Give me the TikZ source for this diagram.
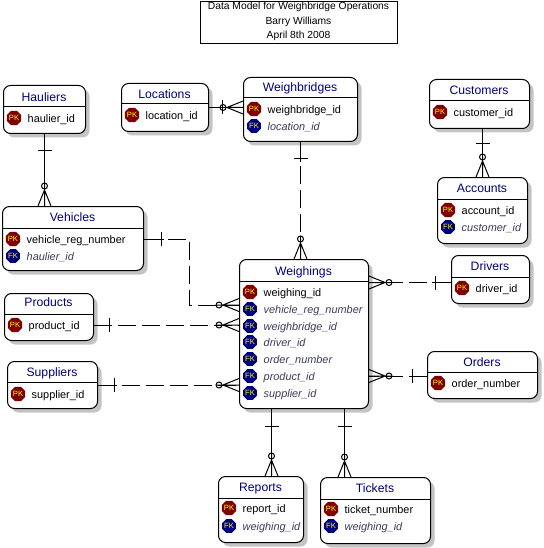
\documentclass[tikz,border=0pt]{standalone}
\usepackage{fontspec}
\setmainfont{Liberation Sans}
\usetikzlibrary{shapes.geometric,shadows}

\definecolor{headblue}{RGB}{0,0,128}
\definecolor{pkred}{RGB}{128,0,0}
\definecolor{fknavy}{RGB}{0,0,128}
\definecolor{shadegray}{RGB}{196,196,196}
\definecolor{fkgray}{RGB}{60,60,90}
\definecolor{keyyellow}{RGB}{255,255,0}

% "many" end: optional circle plus crow's foot, drawn outward from the box edge
\newcommand{\manyend}[2]{%
  \begin{scope}[shift={#1},rotate=#2]
    \draw[conn] (0,0) -- (23,0) (16,0) -- (0,6.5) (16,0) -- (0,-6.5);
    \draw[conn] (20,0) circle[radius=3pt];
  \end{scope}}
% "one" end: a single bar at the given distance from the box edge
\newcommand{\oneend}[3]{%
  \begin{scope}[shift={#1},rotate=#2]
    \draw[conn] (0,0) -- (#3+3,0) (#3,-7) -- (#3,7);
  \end{scope}}
% attribute rows: key icon and column name
\newcommand{\pkrow}[4]{%
  \node[pkicon] (#1-key) at (#2,#3) {PK};
  \node[pkattr] (#1) at ([xshift=13.5pt,yshift=-4.5pt]#1-key.center) {#4};}
\newcommand{\fkrow}[4]{%
  \node[fkicon] (#1-key) at (#2,#3) {FK};
  \node[fkattr] (#1) at ([xshift=13.5pt,yshift=-4.5pt]#1-key.center) {#4};}

\tikzset{
  conn/.style={draw=black, line width=1pt},
  nonident/.style={dash pattern=on 18pt off 6pt},
  entity/.style={draw=black, line width=1pt, fill=white, rounded corners=7pt,
    inner sep=0pt, anchor=north west,
    drop shadow={shadow xshift=4pt, shadow yshift=-4pt, fill=shadegray, opacity=1, draw=none}},
  etitle/.style={anchor=base, inner sep=0pt, text=headblue, font=\fontsize{12.2}{14}\selectfont},
  rule/.style={draw=black, line width=1pt},
  pkicon/.style={regular polygon, regular polygon sides=8, minimum size=14.5pt, inner sep=0pt,
    fill=pkred, text=keyyellow, font=\fontsize{7.6}{7.6}\selectfont},
  fkicon/.style={pkicon, fill=fknavy},
  pkattr/.style={anchor=base west, inner sep=0pt, text=black, font=\fontsize{10.9}{13}\selectfont},
  fkattr/.style={anchor=base west, inner sep=0pt, text=fkgray, font=\fontsize{10.9}{13}\selectfont\itshape},
  caption/.style={anchor=base, inner sep=0pt, font=\fontsize{10.3}{12}\selectfont},
}

\begin{document}
\begin{tikzpicture}[x=1pt,y=-1pt]
\useasboundingbox (0,0) rectangle (543,548);

% title block
\node[draw=black, line width=1pt, minimum width=197pt, minimum height=42pt,
      inner sep=0pt, anchor=north west] (titleblock) at (200,1) {};
\node[caption] (cap1) at (298.5,10) {Data Model for Weighbridge Operations};
\node[caption] (cap2) at (298.5,24.5) {Barry Williams};
\node[caption] (cap3) at (298.5,38.5) {April 8th 2008};

% Hauliers
\node[entity, minimum width=82pt, minimum height=48pt] (hauliers) at (3,85) {};
\draw[rule] ([yshift=-22pt]hauliers.north west) -- ([yshift=-22pt]hauliers.north east);
\node[etitle] (hauliers-t) at (44,101.5) {Hauliers};
\pkrow{haulierid}{14}{118}{haulier\_id}

% Locations
\node[entity, minimum width=87pt, minimum height=48pt] (locations) at (121,83) {};
\draw[rule] ([yshift=-21pt]locations.north west) -- ([yshift=-21pt]locations.north east);
\node[etitle] (locations-t) at (164.5,98.5) {Locations};
\pkrow{locationid}{132}{115}{location\_id}

% Weighbridges
\node[entity, minimum width=114pt, minimum height=64pt] (weighbridges) at (243,77) {};
\draw[rule] ([yshift=-21pt]weighbridges.north west) -- ([yshift=-21pt]weighbridges.north east);
\node[etitle] (weighbridges-t) at (300,91.5) {Weighbridges};
\pkrow{wbid}{254}{109}{weighbridge\_id}
\fkrow{wblocid}{254}{126}{location\_id}

% Customers
\node[entity, minimum width=100pt, minimum height=49pt] (customers) at (429,79) {};
\draw[rule] ([yshift=-22pt]customers.north west) -- ([yshift=-22pt]customers.north east);
\node[etitle] (customers-t) at (479,94.5) {Customers};
\pkrow{customerid}{440}{112}{customer\_id}

% Accounts
\node[entity, minimum width=90pt, minimum height=66pt] (accounts) at (437,177) {};
\draw[rule] ([yshift=-22pt]accounts.north west) -- ([yshift=-22pt]accounts.north east);
\node[etitle] (accounts-t) at (482,192.5) {Accounts};
\pkrow{accountid}{448}{210}{account\_id}
\fkrow{acccustid}{448}{227}{customer\_id}

% Vehicles
\node[entity, minimum width=141pt, minimum height=64pt] (vehicles) at (2,206) {};
\draw[rule] ([yshift=-22pt]vehicles.north west) -- ([yshift=-22pt]vehicles.north east);
\node[etitle] (vehicles-t) at (72.5,221.5) {Vehicles};
\pkrow{vreg}{13}{239}{vehicle\_reg\_number}
\fkrow{vhaulid}{13}{256}{haulier\_id}

% Drivers
\node[entity, minimum width=78pt, minimum height=48pt] (drivers) at (451,255) {};
\draw[rule] ([yshift=-22pt]drivers.north west) -- ([yshift=-22pt]drivers.north east);
\node[etitle] (drivers-t) at (490,270.5) {Drivers};
\pkrow{driverid}{462}{288}{driver\_id}

% Weighings
\node[entity, minimum width=129pt, minimum height=149pt] (weighings) at (239,259) {};
\draw[rule] ([yshift=-22pt]weighings.north west) -- ([yshift=-22pt]weighings.north east);
\node[etitle] (weighings-t) at (303.5,275.5) {Weighings};
\pkrow{w-id}{250}{292}{weighing\_id}
\fkrow{w-vreg}{250}{309}{vehicle\_reg\_number}
\fkrow{w-wb}{250}{326}{weighbridge\_id}
\fkrow{w-drv}{250}{342}{driver\_id}
\fkrow{w-ord}{250}{359}{order\_number}
\fkrow{w-prod}{250}{376}{product\_id}
\fkrow{w-sup}{250}{393}{supplier\_id}

% Products
\node[entity, minimum width=89pt, minimum height=47pt] (products) at (4,293) {};
\draw[rule] ([yshift=-21pt]products.north west) -- ([yshift=-21pt]products.north east);
\node[etitle] (products-t) at (48.5,306.5) {Products};
\pkrow{prodid}{15}{325}{product\_id}

% Suppliers
\node[entity, minimum width=90pt, minimum height=47pt] (suppliers) at (7,361) {};
\draw[rule] ([yshift=-21pt]suppliers.north west) -- ([yshift=-21pt]suppliers.north east);
\node[etitle] (suppliers-t) at (52,376.5) {Suppliers};
\pkrow{supid}{18}{394}{supplier\_id}

% Orders
\node[entity, minimum width=110pt, minimum height=47pt] (orders) at (427,351) {};
\draw[rule] ([yshift=-21pt]orders.north west) -- ([yshift=-21pt]orders.north east);
\node[etitle] (orders-t) at (482,366.5) {Orders};
\pkrow{ordnum}{438}{383}{order\_number}

% Reports
\node[entity, minimum width=85pt, minimum height=66pt] (reports) at (218,476) {};
\draw[rule] ([yshift=-22pt]reports.north west) -- ([yshift=-22pt]reports.north east);
\node[etitle] (reports-t) at (260.5,491.5) {Reports};
\pkrow{repid}{229}{508}{report\_id}
\fkrow{repwid}{229}{526}{weighing\_id}

% Tickets
\node[entity, minimum width=110pt, minimum height=66pt] (tickets) at (320,477) {};
\draw[rule] ([yshift=-22pt]tickets.north west) -- ([yshift=-22pt]tickets.north east);
\node[etitle] (tickets-t) at (375,492.5) {Tickets};
\pkrow{ticknum}{331}{509}{ticket\_number}
\fkrow{tickwid}{331}{526}{weighing\_id}

% ---- relationships ----
% Hauliers -< Vehicles
\draw[conn] (hauliers.south) -- (hauliers.south |- vehicles.north);
\oneend{(hauliers.south)}{270}{17}
\manyend{(hauliers.south |- vehicles.north)}{90}

% Locations -< Weighbridges
\draw[conn] (locations.east) -- (locations.east -| weighbridges.west);
\oneend{(locations.east)}{0}{13}
\manyend{(locations.east -| weighbridges.west)}{180}

% Customers -< Accounts
\draw[conn] (accounts.north |- customers.south) -- (accounts.north);
\oneend{(accounts.north |- customers.south)}{270}{15}
\manyend{(accounts.north)}{90}

% Weighbridges -< Weighings
\draw[conn,nonident] (weighbridges.south) -- (weighbridges.south |- weighings.north);
\oneend{(weighbridges.south)}{270}{17}
\manyend{(weighbridges.south |- weighings.north)}{90}

% Vehicles -< Weighings
\coordinate (vbend) at (189,305);
\draw[conn,nonident] (vehicles.east |- vreg-key) -| (vbend) -- (weighings.west |- vbend);
\oneend{(vehicles.east |- vreg-key)}{0}{17}
\manyend{(weighings.west |- vbend)}{180}

% Products -< Weighings
\draw[conn,nonident] (products.east |- prodid-key) -- (weighings.west |- prodid-key);
\oneend{(products.east |- prodid-key)}{0}{15}
\manyend{(weighings.west |- prodid-key)}{180}

% Suppliers -< Weighings
\draw[conn,nonident] (suppliers.east) -- (suppliers.east -| weighings.west);
\oneend{(suppliers.east)}{0}{16}
\manyend{(suppliers.east -| weighings.west)}{180}

% Drivers -< Weighings
\coordinate (drvpt) at ([yshift=-3pt]drivers.west);
\draw[conn,nonident] (drvpt) -- (drvpt -| weighings.east);
\oneend{(drvpt)}{180}{16}
\manyend{(drvpt -| weighings.east)}{0}

% Orders -< Weighings
\draw[conn,nonident] (orders.west |- w-prod-key) -- (weighings.east |- w-prod-key);
\oneend{(orders.west |- w-prod-key)}{180}{15}
\manyend{(weighings.east |- w-prod-key)}{0}

% Weighings -< Reports
\coordinate (rtop) at ([xshift=10.5pt]reports.north);
\draw[conn] (weighings.south -| rtop) -- (rtop);
\oneend{(weighings.south -| rtop)}{270}{17}
\manyend{(rtop)}{90}

% Weighings -< Tickets
\coordinate (ttop) at ([xshift=-31pt]tickets.north);
\draw[conn] (weighings.south -| ttop) -- (ttop);
\oneend{(weighings.south -| ttop)}{270}{17}
\manyend{(ttop)}{90}
\end{tikzpicture}
\end{document}
